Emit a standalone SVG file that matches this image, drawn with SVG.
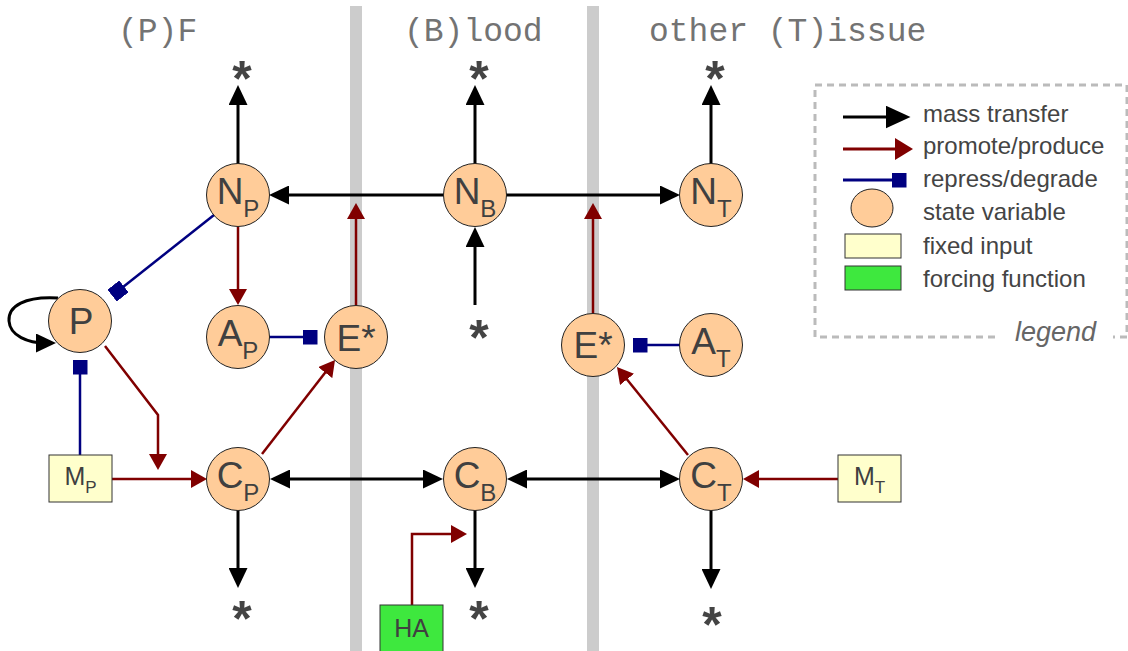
<svg xmlns="http://www.w3.org/2000/svg" width="1128" height="651" viewBox="0 0 1128 651">
  <style>
    .bar { fill: #cccccc; }
    .hdr { font-family: "Liberation Mono", "Courier New", monospace; font-size: 33px; fill: #737373; }
    .node circle { fill: #ffcc99; stroke: #222222; stroke-width: 1; }
    .lbl { font-family: "Liberation Sans", Arial, sans-serif; font-size: 37px; fill: #404040; text-anchor: middle; }
    .sub { font-size: 24px; }
    .box { fill: #ffffcc; stroke: #333333; stroke-width: 1; }
    .force { fill: #3ee83e; stroke: #333333; stroke-width: 1; }
    .boxlbl { font-family: "Liberation Sans", Arial, sans-serif; font-size: 25px; fill: #404040; text-anchor: middle; }
    .star { font-family: "Liberation Sans", Arial, sans-serif; font-weight: bold; font-size: 50px; fill: #444444; text-anchor: middle; }
    .mass { fill: none; stroke: #000000; stroke-width: 3; }
    .prom { fill: none; stroke: #800000; stroke-width: 2.5; }
    .rep { fill: none; stroke: #000080; stroke-width: 2.5; }
    .legtxt { font-family: "Liberation Sans", Arial, sans-serif; font-size: 24px; fill: #444444; }
    .legbox { fill: none; stroke: #bbbbbb; stroke-width: 3; stroke-dasharray: 7 5; }
  </style>
  <defs>
    <marker id="hK" markerUnits="userSpaceOnUse" markerWidth="20" markerHeight="19" refX="10" refY="9.5" orient="auto-start-reverse">
      <path d="M0,0 L20,9.5 L0,19 Z" fill="#000000"/>
    </marker>
    <marker id="hR" markerUnits="userSpaceOnUse" markerWidth="16" markerHeight="18" refX="8" refY="9" orient="auto">
      <path d="M0,0 L16,9 L0,18 Z" fill="#800000"/>
    </marker>
    <marker id="sqB" markerUnits="userSpaceOnUse" markerWidth="15" markerHeight="15" refX="7.5" refY="7.5" orient="auto">
      <rect x="0" y="0" width="15" height="15" fill="#000080"/>
    </marker>
    <marker id="hKL" markerUnits="userSpaceOnUse" markerWidth="25" markerHeight="23" refX="12.5" refY="11.5" orient="auto">
      <path d="M0,0 L25,11.5 L0,23 Z" fill="#000000"/>
    </marker>
    <marker id="hRL" markerUnits="userSpaceOnUse" markerWidth="18" markerHeight="22" refX="9" refY="11" orient="auto">
      <path d="M0,0 L18,11 L0,22 Z" fill="#800000"/>
    </marker>
  </defs>

  <rect width="1128" height="651" fill="#ffffff"/>

  <!-- compartment separators -->
  <rect class="bar" x="350" y="6" width="12" height="645"/>
  <rect class="bar" x="587" y="6" width="12" height="645"/>

  <!-- compartment headings -->
  <text class="hdr" x="118" y="40.5">(P)F</text>
  <text class="hdr" x="404" y="40.5">(B)lood</text>
  <text class="hdr" x="649" y="40.5">other (T)issue</text>

  <!-- sinks / sources -->
  <text class="star" x="242" y="96">*</text>
  <text class="star" x="479" y="96">*</text>
  <text class="star" x="715" y="96">*</text>
  <text class="star" x="479" y="355">*</text>
  <text class="star" x="242" y="636">*</text>
  <text class="star" x="479" y="636">*</text>
  <text class="star" x="712" y="642">*</text>

  <g id="connectors">
    <!-- mass transfer -->
    <path class="mass" d="M238,164 V95" marker-end="url(#hK)"/>
    <path class="mass" d="M475,164 V95" marker-end="url(#hK)"/>
    <path class="mass" d="M711,164 V95" marker-end="url(#hK)"/>
    <path class="mass" d="M444,195 H279" marker-end="url(#hK)"/>
    <path class="mass" d="M506,195 H670" marker-end="url(#hK)"/>
    <path class="mass" d="M475,305 V237" marker-end="url(#hK)"/>
    <path class="mass" d="M280,479 H433" marker-start="url(#hK)" marker-end="url(#hK)"/>
    <path class="mass" d="M517,479 H670" marker-start="url(#hK)" marker-end="url(#hK)"/>
    <path class="mass" d="M238,510 V578" marker-end="url(#hK)"/>
    <path class="mass" d="M475,510 V578" marker-end="url(#hK)"/>
    <path class="mass" d="M711,510 V579" marker-end="url(#hK)"/>
    <path class="mass" d="M58,298 C25,296 8,306 9,321 C10,336 28,343 46,343" marker-end="url(#hK)"/>
    <!-- promote / produce -->
    <path class="prom" d="M238,227 V297" marker-end="url(#hR)"/>
    <path class="prom" d="M356,305 V211" marker-end="url(#hR)"/>
    <path class="prom" d="M593,313 V211" marker-end="url(#hR)"/>
    <path class="prom" d="M105,346 L158,415 V462" marker-end="url(#hR)"/>
    <path class="prom" d="M112,479 H199" marker-end="url(#hR)"/>
    <path class="prom" d="M262,454 L330.1,366.3" marker-end="url(#hR)"/>
    <path class="prom" d="M688,455 L622,373.2" marker-end="url(#hR)"/>
    <path class="prom" d="M838,479 H751" marker-end="url(#hR)"/>
    <path class="prom" d="M412,605 V534 H459" marker-end="url(#hR)"/>
    <!-- repress / degrade -->
    <path class="rep" d="M214,215 L118,291" marker-end="url(#sqB)"/>
    <path class="rep" d="M80,455 V367" marker-end="url(#sqB)"/>
    <path class="rep" d="M269,337 H310" marker-end="url(#sqB)"/>
    <path class="rep" d="M680,345 H640" marker-end="url(#sqB)"/>
  </g>

  <!-- state variables -->
  <g id="node-NP" class="node"><circle cx="238" cy="195" r="31.5"/><text class="lbl" x="238" y="204">N<tspan class="sub" dy="13">P</tspan></text></g>
  <g id="node-NB" class="node"><circle cx="475" cy="195" r="31.5"/><text class="lbl" x="475" y="204">N<tspan class="sub" dy="13">B</tspan></text></g>
  <g id="node-NT" class="node"><circle cx="711" cy="195" r="31.5"/><text class="lbl" x="711" y="204">N<tspan class="sub" dy="13">T</tspan></text></g>
  <g id="node-P" class="node"><circle cx="80" cy="321" r="31.5"/><text class="lbl" x="81" y="334">P</text></g>
  <g id="node-AP" class="node"><circle cx="238" cy="337" r="31.5"/><text class="lbl" x="238" y="346">A<tspan class="sub" dy="13">P</tspan></text></g>
  <g id="node-EP" class="node"><circle cx="356" cy="337" r="31.5"/><text class="lbl" x="356" y="351">E*</text></g>
  <g id="node-ET" class="node"><circle cx="593" cy="345" r="31.5"/><text class="lbl" x="593" y="358">E*</text></g>
  <g id="node-AT" class="node"><circle cx="711" cy="345" r="31.5"/><text class="lbl" x="711" y="354">A<tspan class="sub" dy="13">T</tspan></text></g>
  <g id="node-CP" class="node"><circle cx="238" cy="479" r="31.5"/><text class="lbl" x="238" y="488">C<tspan class="sub" dy="13">P</tspan></text></g>
  <g id="node-CB" class="node"><circle cx="475" cy="479" r="31.5"/><text class="lbl" x="475" y="488">C<tspan class="sub" dy="13">B</tspan></text></g>
  <g id="node-CT" class="node"><circle cx="711" cy="479" r="31.5"/><text class="lbl" x="711" y="488">C<tspan class="sub" dy="13">T</tspan></text></g>

  <!-- fixed inputs and forcing -->
  <g id="node-MP"><rect class="box" x="49" y="455" width="63" height="47"/><text class="boxlbl" x="80.5" y="485">M<tspan font-size="17" dy="8">P</tspan></text></g>
  <g id="node-MT"><rect class="box" x="838" y="455" width="63" height="47"/><text class="boxlbl" x="869.5" y="485">M<tspan font-size="17" dy="8">T</tspan></text></g>
  <g id="node-HA"><rect class="force" x="380" y="605" width="63" height="50"/><text class="boxlbl" x="411.5" y="637">HA</text></g>

  <!-- legend -->
  <g id="legend">
    <path class="legbox" d="M995,337 H815 V85 H1127 V337 H1113"/>
    <text x="1096" y="341" font-family="Liberation Sans, Arial, sans-serif" font-style="italic" font-size="27" fill="#666666" text-anchor="end">legend</text>
    <path d="M843,117 H898" stroke="#000000" stroke-width="3" fill="none" marker-end="url(#hKL)"/>
    <path d="M843,149 H904" stroke="#800000" stroke-width="3" fill="none" marker-end="url(#hRL)"/>
    <path d="M843,180 H899" stroke="#000080" stroke-width="3" fill="none" marker-end="url(#sqB)"/>
    <ellipse cx="872" cy="208" rx="21" ry="19" fill="#ffcc99" stroke="#222222" stroke-width="1"/>
    <rect class="box" x="845" y="234" width="56" height="24"/>
    <rect class="force" x="845" y="266" width="56" height="24"/>
    <text class="legtxt" x="923" y="122">mass transfer</text>
    <text class="legtxt" x="923" y="154">promote/produce</text>
    <text class="legtxt" x="923" y="187">repress/degrade</text>
    <text class="legtxt" x="923" y="220">state variable</text>
    <text class="legtxt" x="923" y="254">fixed input</text>
    <text class="legtxt" x="923" y="287">forcing function</text>
  </g>
</svg>
